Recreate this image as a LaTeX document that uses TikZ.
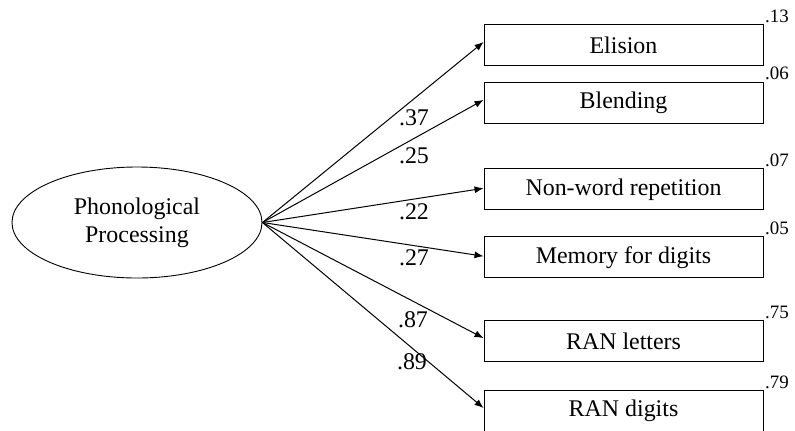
\documentclass[tikz,border=0pt]{standalone}
\usepackage{fontspec}
\setmainfont{Liberation Serif}
\usetikzlibrary{positioning, shapes.geometric, arrows.meta}

\begin{document}
\begin{tikzpicture}[
    x=1bp, y=-1bp,
    >=Latex,
    % Styles
    factor/.style={
        ellipse,
        draw,
        line width=0.9bp,
        minimum width=250bp,
        minimum height=111bp,
        align=center,
        font=\fontsize{24}{28}\selectfont
    },
    indicator/.style={
        rectangle,
        draw,
        line width=0.9bp,
        minimum width=279bp,
        minimum height=41bp,
        inner sep=0pt,
        font=\fontsize{24}{28}\selectfont
    },
    loading/.style={
        inner sep=0pt,
        font=\fontsize{24}{28}\selectfont
    },
    rsq/.style={
        anchor=south west,
        inner sep=1.5bp,
        font=\fontsize{19}{21}\selectfont
    },
    arrow/.style={
        -{Latex[length=9bp, width=7bp]},
        line width=1bp
    }
]
    \useasboundingbox (0,0) rectangle (795,430);

    % Nodes
    \node[factor] (phon) at (137,222.5) {Phonological\\Processing};

    \node[indicator] (elision) at (623.5,45) {Elision};
    \node[indicator, below=16bp of elision] (blending) {Blending};
    \node[indicator, below=44.5bp of blending] (nonword) {Non-word repetition};
    \node[indicator, below=26bp of nonword] (memory) {Memory for digits};
    \node[indicator, below=42bp of memory] (ranletters) {RAN letters};
    \node[indicator, below=28bp of ranletters] (randigits) {RAN digits};

    % R squared
    \node[rsq] (r2elision) at (elision.north east) {.13};
    \node[rsq] (r2blending) at (blending.north east) {.06};
    \node[rsq] (r2nonword) at (nonword.north east) {.07};
    \node[rsq] (r2memory) at (memory.north east) {.05};
    \node[rsq] (r2ranletters) at (ranletters.north east) {.75};
    \node[rsq] (r2randigits) at (randigits.north east) {.79};

    % Loadings
    \node[loading] (l1) at (414,118) {.37};
    \node[loading] (l2) at (414,156) {.25};
    \node[loading] (l3) at (414,212) {.22};
    \node[loading] (l4) at (414,258) {.27};
    \node[loading] (l5) at (413,320) {.87};
    \node[loading] (l6) at (412,362) {.89};

    % Paths
    \draw[arrow] (phon.east) -- ([yshift=3bp]elision.west);
    \draw[arrow] (phon.east) -- ([yshift=3bp]blending.west);
    \draw[arrow] (phon.east) -- ([yshift=1bp]nonword.west);
    \draw[arrow] (phon.east) -- ([yshift=1bp]memory.west);
    \draw[arrow] (phon.east) -- ([yshift=3bp]ranletters.west);
    \draw[arrow] (phon.east) -- ([yshift=3bp]randigits.west);
\end{tikzpicture}
\end{document}
